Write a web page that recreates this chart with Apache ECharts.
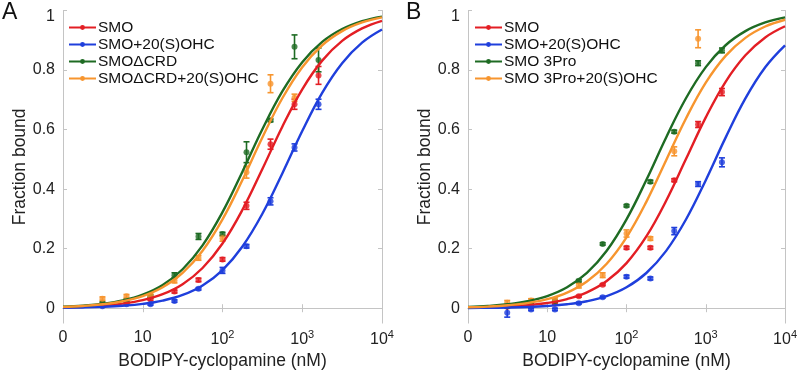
<!DOCTYPE html>
<html><head><meta charset="utf-8">
<script src="https://cdn.jsdelivr.net/npm/echarts@6/dist/echarts.min.js"></script>
<style>html,body{margin:0;padding:0;background:#fff}#c{width:800px;height:375px}</style>
</head><body><div id="c"></div>
<script>
// concentrations (nM) of measured points
const conc = [3.125, 6.25, 12.5, 25, 50, 100, 200, 400, 800, 1600];
// x grid on which fitted curves were read
const fitX = [1, 1.778, 3.162, 5.623, 10, 17.78, 31.62, 56.23, 100, 177.8, 316.2, 562.3, 1000, 1778, 3162, 5623, 10000];
const xTicks = [1, 10, 100, 1000, 10000];
const yTicks = [0, 0.2, 0.4, 0.6, 0.8, 1];

// Panel A
const namesA = ['SMO', 'SMO+20(S)OHC', 'SMO\u0394CRD', 'SMO\u0394CRD+20(S)OHC'];
const aSMO      = [0.010, 0.020, 0.030, 0.056, 0.095, 0.164, 0.344, 0.551, 0.685, 0.782];
const aSMOerr   = [0.004, 0.004, 0.004, 0.005, 0.006, 0.006, 0.012, 0.017, 0.017, 0.030];
const aSMO20    = [0.007, 0.013, 0.013, 0.024, 0.065, 0.127, 0.208, 0.359, 0.540, 0.685];
const aSMO20err = [0.003, 0.003, 0.003, 0.004, 0.004, 0.010, 0.006, 0.012, 0.012, 0.017];
const aCRD      = [0.016, 0.026, 0.040, 0.111, 0.241, 0.249, 0.524, 0.631, 0.878, 0.834];
const aCRDerr   = [0.005, 0.005, 0.005, 0.008, 0.010, 0.006, 0.035, 0.005, 0.040, 0.040];
const aCRD20    = [0.032, 0.040, 0.042, 0.093, 0.169, 0.235, 0.457, 0.754, 0.707, null];
const aCRD20err = [0.006, 0.006, 0.006, 0.008, 0.008, 0.010, 0.020, 0.030, 0.012, null];
const aFitSMO   = [0.0028, 0.0049, 0.0087, 0.0154, 0.027, 0.0471, 0.0807, 0.1351, 0.2174, 0.3306, 0.4676, 0.6097, 0.7353, 0.8316, 0.8978, 0.9398, 0.9653];
const aFitSMO20 = [0.0015, 0.0026, 0.0046, 0.0082, 0.0145, 0.0255, 0.0444, 0.0764, 0.1282, 0.2073, 0.3174, 0.4526, 0.5952, 0.7234, 0.823, 0.8921, 0.9363];
const aFitCRD   = [0.0047, 0.0084, 0.0148, 0.0261, 0.0455, 0.078, 0.1309, 0.2112, 0.3226, 0.4585, 0.6009, 0.7281, 0.8264, 0.8944, 0.9377, 0.964, 0.9794];
const aFitCRD20 = [0.0042, 0.0075, 0.0133, 0.0234, 0.0408, 0.0703, 0.1186, 0.1931, 0.2985, 0.4307, 0.5737, 0.7052, 0.8097, 0.8833, 0.9308, 0.9599, 0.977];

// Panel B
const namesB = ['SMO', 'SMO+20(S)OHC', 'SMO 3Pro', 'SMO 3Pro+20(S)OHC'];
const bSMO       = [0.005, 0.013, 0.015, 0.040, 0.079, 0.203, 0.203, 0.430, 0.617, 0.726];
const bSMOerr    = [0.003, 0.003, 0.003, 0.003, 0.003, 0.005, 0.005, 0.005, 0.010, 0.012];
const bSMO20     = [-0.015, -0.004, -0.004, 0.017, 0.037, 0.106, 0.100, 0.259, 0.417, 0.490];
const bSMO20err  = [0.015, 0.004, 0.004, 0.003, 0.003, 0.005, 0.005, 0.012, 0.008, 0.015];
const b3Pro      = [0.007, 0.018, 0.024, 0.092, 0.216, 0.344, 0.425, 0.593, 0.823, 0.866];
const b3Proerr   = [0.003, 0.003, 0.003, 0.004, 0.004, 0.004, 0.005, 0.005, 0.008, 0.008];
const b3Pro20    = [0.018, 0.026, 0.029, 0.076, 0.111, 0.251, 0.234, 0.527, 0.905, null];
const b3Pro20err = [0.008, 0.006, 0.006, 0.008, 0.008, 0.012, 0.006, 0.015, 0.030, null];
const bFitSMO    = [0.0018, 0.0032, 0.0056, 0.0099, 0.0175, 0.0308, 0.0534, 0.0913, 0.1515, 0.241, 0.3609, 0.501, 0.641, 0.7605, 0.8495, 0.9094, 0.947];
const bFitSMO20  = [0.00075, 0.0013, 0.0024, 0.0042, 0.0075, 0.0132, 0.0233, 0.0407, 0.0702, 0.1183, 0.1927, 0.2979, 0.4301, 0.573, 0.7047, 0.8093, 0.883];
const bFit3Pro   = [0.0042, 0.0075, 0.0133, 0.0234, 0.0408, 0.0703, 0.1186, 0.1931, 0.2985, 0.4307, 0.5737, 0.7052, 0.8097, 0.8833, 0.9308, 0.9599, 0.977];
const bFit3Pro20 = [0.0031, 0.0055, 0.0098, 0.0173, 0.0303, 0.0526, 0.0899, 0.1495, 0.2381, 0.3572, 0.497, 0.6373, 0.7576, 0.8475, 0.9081, 0.9462, 0.969];

const colors = ['#e31e24', '#1f3fdc', '#1e6b23', '#f7952e'];
const FONT = 'Liberation Sans, Arial, sans-serif';
const frame = '#c4c4c4';

function pairs(xs, ys) { return xs.map((x, i) => [x, ys[i]]).filter(p => p[1] !== null); }
function errItems(xs, ys, es) { return xs.map((x, i) => [x, ys[i], es[i]]).filter(p => p[1] !== null); }

function xAxisPair(gi) {
  return [
    { type: 'log', logBase: 10, gridIndex: gi, min: 1, max: 10000, position: 'bottom',
      name: 'BODIPY-cyclopamine (nM)', nameLocation: 'middle', nameGap: 28,
      nameTextStyle: { fontSize: 17.5, color: '#222', fontFamily: FONT },
      axisLine: { show: true, lineStyle: { color: frame, width: 1 } },
      axisTick: { show: true, inside: true, length: 4, lineStyle: { color: frame }, customValues: xTicks },
      splitLine: { show: false }, minorTick: { show: false },
      axisLabel: { customValues: xTicks, margin: 6, color: '#222', fontSize: 16, fontFamily: FONT,
        formatter: v => v === 1 ? '0' : (v === 10 ? '10' : '10{s|' + Math.round(Math.log10(v)) + '}'),
        rich: { s: { fontSize: 11, padding: [0, 0, 9, 0], color: '#222', fontFamily: FONT } } } },
    { type: 'log', logBase: 10, gridIndex: gi, min: 1, max: 10000, position: 'top',
      axisLine: { show: true, lineStyle: { color: frame, width: 1 } },
      axisTick: { show: true, inside: true, length: 4, lineStyle: { color: frame }, customValues: xTicks },
      axisLabel: { show: false }, splitLine: { show: false } }
  ];
}
function yAxisPair(gi, gap) {
  return [
    { type: 'value', gridIndex: gi, min: -0.05, max: 1, position: 'left',
      name: 'Fraction bound', nameLocation: 'middle', nameGap: gap, nameRotate: 90,
      nameTextStyle: { fontSize: 17.5, color: '#222', fontFamily: FONT },
      axisLine: { show: true, lineStyle: { color: frame, width: 1 } },
      axisTick: { show: true, inside: true, length: 4, lineStyle: { color: frame }, customValues: yTicks },
      splitLine: { show: false },
      axisLabel: { customValues: yTicks, margin: 8, color: '#222', fontSize: 16, fontFamily: FONT,
        formatter: v => v === 0 ? '0' : (v === 1 ? '{t|1}' : v.toFixed(1)),
        rich: { t: { fontSize: 16, padding: [12, 0, 0, 0], color: '#222', fontFamily: FONT } } } },
    { type: 'value', gridIndex: gi, min: -0.05, max: 1, position: 'right',
      axisLine: { show: true, lineStyle: { color: frame, width: 1 } },
      axisTick: { show: true, inside: true, length: 4, lineStyle: { color: frame }, customValues: yTicks },
      axisLabel: { show: false }, splitLine: { show: false } }
  ];
}

function errSeries(xi, yi, data, color) {
  return {
    type: 'custom', xAxisIndex: xi, yAxisIndex: yi, data: data, z: 3, silent: true,
    renderItem: function (params, api) {
      const x = api.value(0), y = api.value(1), e = api.value(2);
      const top = api.coord([x, y + e]), bot = api.coord([x, y - e]);
      const c = 3;
      return { type: 'group', children: [
        { type: 'line', shape: { x1: top[0], y1: top[1], x2: bot[0], y2: bot[1] }, style: { stroke: color, lineWidth: 1.6 } },
        { type: 'line', shape: { x1: top[0] - c, y1: top[1], x2: top[0] + c, y2: top[1] }, style: { stroke: color, lineWidth: 1.6 } },
        { type: 'line', shape: { x1: bot[0] - c, y1: bot[1], x2: bot[0] + c, y2: bot[1] }, style: { stroke: color, lineWidth: 1.6 } }
      ] };
    }
  };
}
function pointSeries(xi, yi, data, color) {
  return { type: 'scatter', xAxisIndex: xi, yAxisIndex: yi, data: data, symbol: 'circle', symbolSize: 6,
    itemStyle: { color: color }, z: 4, silent: true };
}
function fitSeries(xi, yi, name, ys, color) {
  return { type: 'line', name: name, xAxisIndex: xi, yAxisIndex: yi, data: pairs(fitX, ys), smooth: 0.4,
    symbol: 'circle', symbolSize: 5, showSymbol: false, lineStyle: { color: color, width: 2.4 },
    itemStyle: { color: color }, z: 5, silent: true };
}

const panelA = [
  [aSMO, aSMOerr, aFitSMO], [aSMO20, aSMO20err, aFitSMO20], [aCRD, aCRDerr, aFitCRD], [aCRD20, aCRD20err, aFitCRD20]
];
const panelB = [
  [bSMO, bSMOerr, bFitSMO], [bSMO20, bSMO20err, bFitSMO20], [b3Pro, b3Proerr, bFit3Pro], [b3Pro20, b3Pro20err, bFit3Pro20]
];

const series = [];
panelA.forEach((d, i) => {
  series.push(errSeries(0, 0, errItems(conc, d[0], d[1]), colors[i]));
  series.push(pointSeries(0, 0, pairs(conc, d[0]), colors[i]));
  series.push(fitSeries(0, 0, 'A_' + namesA[i], d[2], colors[i]));
});
panelB.forEach((d, i) => {
  series.push(errSeries(2, 2, errItems(conc, d[0], d[1]), colors[i]));
  series.push(pointSeries(2, 2, pairs(conc, d[0]), colors[i]));
  series.push(fitSeries(2, 2, 'B_' + namesB[i], d[2], colors[i]));
});

function legend(left, prefix, names) {
  return { orient: 'vertical', left: left, top: 19, itemWidth: 27, itemHeight: 6, itemGap: 0,
    selectedMode: false, padding: 0,
    data: names.map(n => ({ name: prefix + n })),
    formatter: n => n.slice(2),
    textStyle: { fontSize: 15.5, lineHeight: 17, color: '#111', fontFamily: FONT, padding: [0, 0, 0, -3] } };
}

const chart = echarts.init(document.getElementById('c'), null, { renderer: 'canvas' });
chart.setOption({
  animation: false,
  backgroundColor: '#fff',
  grid: [
    { left: 63, top: 10.5, width: 319, height: 318 },
    { left: 468, top: 10.5, width: 319, height: 318 }
  ],
  xAxis: [...xAxisPair(0), ...xAxisPair(1)],
  yAxis: [...yAxisPair(0, 30), ...yAxisPair(1, 31)],
  legend: [legend(68, 'A_', namesA), legend(474, 'B_', namesB)],
  graphic: [
    { type: 'text', left: 2, top: 1, style: { text: 'A', fontSize: 23, fill: '#111', fontFamily: FONT } },
    { type: 'text', left: 406, top: 1, style: { text: 'B', fontSize: 23, fill: '#111', fontFamily: FONT } }
  ],
  series: series
});
</script></body></html>
